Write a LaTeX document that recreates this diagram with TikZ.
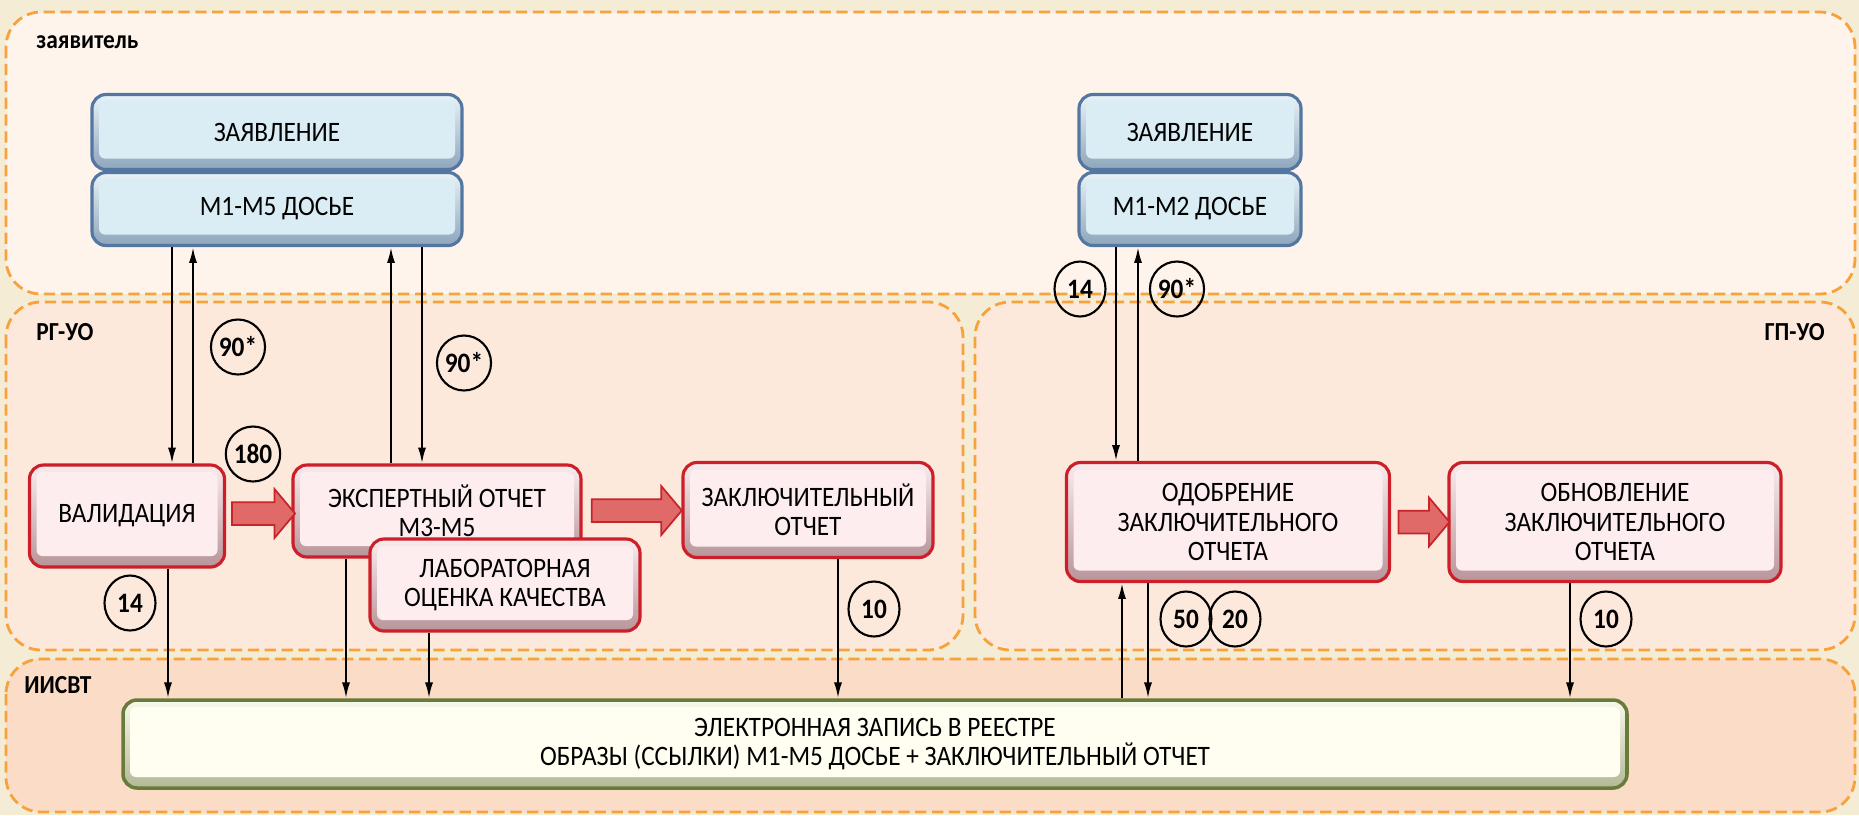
\documentclass[tikz,border=0pt]{standalone}
\usepackage{fontspec}
\setmainfont{Carlito}[FakeStretch=0.9]
\usetikzlibrary{arrows.meta,shapes.geometric,shapes.arrows}

\definecolor{bgcream}{HTML}{F5ECD6}
\definecolor{laneline}{HTML}{F7A23B}
\definecolor{lanetop}{HTML}{FEF4EC}
\definecolor{lanemid}{HTML}{FDE9DC}
\definecolor{lanelow}{HTML}{FBDCC6}
\definecolor{redline}{HTML}{CC1F2A}
\definecolor{redin}{HTML}{FDEDEF}
\definecolor{redtop}{HTML}{F9ECEE}
\definecolor{redbot}{HTML}{B8959A}
\definecolor{blueline}{HTML}{5477A2}
\definecolor{bluein}{HTML}{DAEDF5}
\definecolor{bluetop}{HTML}{E8F3F8}
\definecolor{bluebot}{HTML}{8EA5BB}
\definecolor{greenline}{HTML}{687B3A}
\definecolor{greenin}{HTML}{FFFEF1}
\definecolor{greentop}{HTML}{F8F9EA}
\definecolor{greenbot}{HTML}{B3B996}
\definecolor{arrowfill}{HTML}{E06A68}
\definecolor{arrowline}{HTML}{C8242C}

\tikzset{
  lane/.style={draw=laneline, line width=0.8pt, dash pattern=on 3.2pt off 1.6pt, rounded corners=3.5mm},
  bevel/.style={path picture={\fill[#1, rounded corners=0.6mm]
      ([xshift=0.7mm,yshift=1.1mm]path picture bounding box.south west) rectangle
      ([xshift=-0.7mm,yshift=-0.7mm]path picture bounding box.north east);}},
  box/.style={rounded corners=1.4mm, line width=0.9pt, align=center, inner sep=0pt,
      font=\fontsize{8}{8.3}\selectfont},
  docbox/.style={box, draw=blueline, top color=bluetop, bottom color=bluebot, bevel=bluein},
  stepbox/.style={box, draw=redline, top color=redtop, bottom color=redbot, bevel=redin},
  regbox/.style={box, draw=greenline, line width=1pt, top color=greentop, bottom color=greenbot, bevel=greenin},
  conn/.style={line width=0.6pt, -{Latex[length=4.5pt,width=2.3pt]}},
  num/.style={draw, ellipse, line width=0.6pt, minimum width=5.1mm, minimum height=5.5mm,
      inner sep=0pt, font=\bfseries\fontsize{8}{8}\selectfont},
  lanelabel/.style={font=\bfseries\fontsize{7.4}{8}\selectfont},
  flow/.style={single arrow, draw=arrowline, fill=arrowfill, line width=0.5pt, inner xsep=0pt,
      inner ysep=1.05mm, single arrow head extend=1.3mm, single arrow head indent=0pt,
      single arrow tip angle=100}
}

\begin{document}
\begin{tikzpicture}[x=0.1mm, y=-0.1mm]
  \useasboundingbox[fill=bgcream] (0,0) rectangle (1859,815);

  % lanes
  \draw[lane, fill=lanetop] (6,12) rectangle (1855,294);
  \draw[lane, fill=lanemid] (6,302) rectangle (963,650);
  \draw[lane, fill=lanemid] (975,302) rectangle (1855,650);
  \draw[lane, fill=lanelow] (6,659) rectangle (1855,812);
  \node[lanelabel, anchor=west] (applicant) at (24,42) {заявитель};
  \node[lanelabel, anchor=west] (rgLane) at (24,332) {РГ-УО};
  \node[lanelabel, anchor=east] (gpLane) at (1837,332) {ГП-УО};
  \node[lanelabel, anchor=west] (regLane) at (12,685) {ИИСВТ};

  % applicant documents
  \node[docbox, minimum width=37mm, minimum height=7.5mm] (appL) at (277,132) {ЗАЯВЛЕНИЕ};
  \node[docbox, minimum width=37mm, minimum height=7.3mm] (dosL) at (277,209) {М1-М5 ДОСЬЕ};
  \node[docbox, minimum width=22.2mm, minimum height=7.5mm] (appR) at (1190,132) {ЗАЯВЛЕНИЕ};
  \node[docbox, minimum width=22.2mm, minimum height=7.3mm] (dosR) at (1190,209) {М1-М2 ДОСЬЕ};

  % steps
  \node[stepbox, minimum width=19.5mm, minimum height=10.2mm] (val) at (127,516) {ВАЛИДАЦИЯ};
  \node[stepbox, minimum width=28.8mm, minimum height=9.2mm] (exp) at (437,511) {ЭКСПЕРТНЫЙ ОТЧЕТ\\М3-М5};
  \node[stepbox, minimum width=27mm, minimum height=9.2mm] (lab) at (505,585) {ЛАБОРАТОРНАЯ\\ОЦЕНКА КАЧЕСТВА};
  \node[stepbox, minimum width=25mm, minimum height=9.5mm] (fin) at (808,510) {ЗАКЛЮЧИТЕЛЬНЫЙ\\ОТЧЕТ};
  \node[stepbox, minimum width=32.3mm, minimum height=11.9mm] (appr) at (1228,522) {ОДОБРЕНИЕ\\ЗАКЛЮЧИТЕЛЬНОГО\\ОТЧЕТА};
  \node[stepbox, minimum width=33.2mm, minimum height=11.9mm] (upd) at (1615,522) {ОБНОВЛЕНИЕ\\ЗАКЛЮЧИТЕЛЬНОГО\\ОТЧЕТА};
  \node[regbox, minimum width=150.4mm, minimum height=8.8mm] (reg) at (875,744)
    {ЭЛЕКТРОННАЯ ЗАПИСЬ В РЕЕСТРЕ\\ОБРАЗЫ (ССЫЛКИ) М1-М5 ДОСЬЕ + ЗАКЛЮЧИТЕЛЬНЫЙ ОТЧЕТ};

  % flow between steps
  \path (val.east) -- (exp.west) node[flow, midway, minimum height=6.3mm] (f1) {};
  \path (exp.east) -- (fin.west) node[flow, midway, minimum height=9mm] (f2) {};
  \path (appr.east) -- (upd.west) node[flow, midway, minimum height=5.1mm] (f3) {};

  % exchanges with the applicant
  \draw[conn] (172,0 |- dosL.south) -- (172,0 |- val.north);
  \draw[conn] (193,0 |- val.north) -- (193,0 |- dosL.south);
  \draw[conn] (391,0 |- exp.north) -- (391,0 |- dosL.south);
  \draw[conn] (422,0 |- dosL.south) -- (422,0 |- exp.north);
  \draw[conn] (1116,0 |- dosR.south) -- (1116,0 |- appr.north);
  \draw[conn] (1138,0 |- appr.north) -- (1138,0 |- dosR.south);

  % records
  \draw[conn] (168,0 |- val.south) -- (168,0 |- reg.north);
  \draw[conn] (346,0 |- exp.south) -- (346,0 |- reg.north);
  \draw[conn] (429,0 |- lab.south) -- (429,0 |- reg.north);
  \draw[conn] (838,0 |- fin.south) -- (838,0 |- reg.north);
  \draw[conn] (1122,0 |- reg.north) -- (1122,0 |- appr.south);
  \draw[conn] (1148,0 |- appr.south) -- (1148,0 |- reg.north);
  \draw[conn] (1570,0 |- upd.south) -- (1570,0 |- reg.north);

  % days
  \node[num] (d90a) at (238,347) {90*};
  \node[num] (d90b) at (464,363) {90*};
  \node[num] (d180) at (253,454) {180};
  \node[num] (d14a) at (130,603) {14};
  \node[num] (d10a) at (874,609) {10};
  \node[num] (d14b) at (1080,289) {14};
  \node[num] (d90c) at (1177,289) {90*};
  \node[num] (d50) at (1186,619) {50};
  \node[num] (d20) at (1235,619) {20};
  \node[num] (d10b) at (1606,619) {10};
\end{tikzpicture}
\end{document}
